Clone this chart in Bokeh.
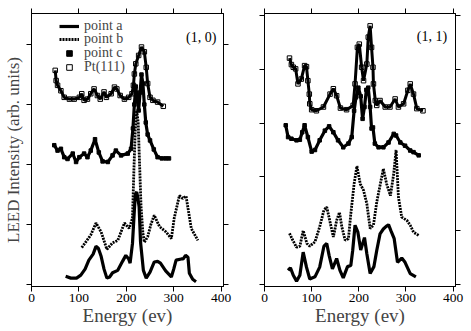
from bokeh.plotting import figure
from bokeh.layouts import row
from bokeh.models import (LinearAxis, FixedTicker, CustomJSTickFormatter, Range1d,
                          Legend, LegendItem, Label)
from bokeh.embed import file_html
from bokeh.resources import INLINE

FONT = "Liberation Serif"

# ---------------- data: panel (1, 0) ----------------
x_ticks = [0, 100, 200, 300, 400]
x_tick_labels = ["0", "100", "200", "300", "400"]

a10_E = [72, 83, 95, 104, 113, 121, 130, 136, 141, 147, 153, 159, 165, 171, 182, 192, 199, 205, 208, 213,
         216, 219, 222, 224, 227, 230, 236, 242, 250, 259, 266, 272, 283, 295, 300, 305, 316, 320, 325, 330,
         333, 340, 347]
a10_I = [0.13, 0.10, 0.10, 0.15, 0.25, 0.40, 0.50, 0.63, 0.60, 0.46, 0.25, 0.10, 0.12, 0.19, 0.23, 0.38, 0.48, 0.42, 0.35, 0.68,
         1.10, 1.50, 1.54, 1.45, 1.29, 0.70, 0.23, 0.10, 0.20, 0.37, 0.38, 0.35, 0.22, 0.12, 0.25, 0.40, 0.42, 0.42, 0.48, 0.45,
         0.18, 0.08, 0.04]

b10_E = [106, 116, 125, 136, 147, 159, 171, 182, 196, 206, 213, 216, 219, 222, 225, 228, 231, 235, 238, 245,
         252, 259, 270, 284, 295, 301, 312, 319, 326, 337, 351]
b10_I = [0.61, 0.72, 0.82, 1.02, 0.87, 0.58, 0.69, 0.73, 1.02, 0.93, 1.10, 1.90, 2.60, 2.90, 2.70, 2.00, 1.30, 0.85, 0.70, 0.79,
         1.00, 1.15, 0.96, 0.87, 0.76, 1.10, 1.48, 1.43, 1.47, 0.93, 0.73]

c10_E = [48, 55, 62, 69, 76, 87, 94, 101, 111, 118, 125, 134, 142, 150, 161, 171, 178, 189, 203, 210,
         214, 217, 220, 223, 226, 229, 232, 235, 238, 241, 245, 250, 258, 266, 275, 283, 290]
c10_I = [2.32, 2.23, 2.26, 2.12, 2.09, 2.18, 2.04, 2.12, 2.18, 2.12, 2.23, 2.42, 2.20, 2.05, 2.04, 2.15, 2.23, 2.15, 2.18, 2.26,
         2.60, 3.00, 3.30, 3.10, 2.90, 3.20, 3.50, 3.35, 3.00, 2.70, 2.50, 2.40, 2.25, 2.12, 2.10, 2.10, 2.10]

pt10_E = [50, 52, 55, 62, 69, 80, 90, 101, 106, 111, 118, 125, 132, 139, 145, 153, 158, 168, 175, 180,
          187, 196, 205, 212, 215, 217, 220, 226, 232, 238, 242, 245, 250, 256, 266, 278]
pt10_I = [3.57, 3.40, 3.32, 3.23, 3.12, 3.09, 3.09, 3.12, 3.18, 3.07, 3.09, 3.18, 3.26, 3.15, 3.09, 3.21, 3.12, 3.18, 3.29, 3.26,
          3.15, 3.09, 3.12, 3.18, 3.32, 3.51, 3.68, 3.82, 3.96, 3.88, 3.62, 3.35, 3.12, 3.07, 3.04, 2.97]

# ---------------- data: panel (1, 1) ----------------
a11_E = [50, 55, 61, 68, 75, 82, 89, 96, 107, 117, 126, 132, 137, 144, 153, 160, 167, 176, 183, 187,
         192, 198, 204, 212, 217, 224, 232, 238, 245, 252, 258, 263, 268, 275, 282, 291, 298, 309, 321]
a11_I = [0.26, 0.31, 0.17, 0.06, 0.17, 0.60, 0.32, 0.10, 0.14, 0.32, 0.71, 0.76, 0.54, 0.29, 0.48, 0.26, 0.12, 0.33, 0.35, 0.63,
         1.10, 0.97, 0.64, 0.87, 0.57, 0.20, 0.33, 0.63, 0.94, 1.03, 1.08, 1.11, 1.00, 0.85, 0.41, 0.49, 0.41, 0.20, 0.14]

b11_E = [53, 60, 68, 75, 82, 90, 96, 107, 117, 126, 132, 139, 146, 153, 159, 164, 171, 178, 183, 190,
         196, 203, 210, 217, 224, 231, 238, 247, 252, 259, 267, 274, 279, 284, 291, 302, 309, 316, 327]
b11_I = [0.95, 0.82, 0.69, 0.71, 1.00, 0.76, 0.71, 0.79, 1.07, 1.38, 1.44, 1.16, 0.88, 1.19, 1.34, 1.07, 0.82, 0.85, 1.31, 1.87,
         2.20, 1.87, 1.75, 1.50, 1.04, 1.10, 1.53, 1.93, 2.15, 1.87, 1.65, 2.06, 2.50, 1.62, 1.25, 1.19, 1.10, 0.97, 0.91]

c11_E = [45, 50, 57, 68, 75, 80, 85, 92, 100, 107, 117, 128, 137, 146, 156, 167, 178, 185, 190, 194,
         199, 204, 208, 212, 216, 220, 224, 227, 230, 234, 242, 252, 263, 274, 279, 288, 298, 309, 316, 327]
c11_I = [2.96, 2.74, 2.71, 2.68, 2.69, 2.83, 2.96, 2.74, 2.47, 2.50, 2.68, 2.86, 2.94, 2.83, 2.68, 2.55, 2.62, 2.74, 3.23, 3.48,
         3.66, 3.50, 3.08, 3.30, 3.62, 3.66, 3.30, 2.90, 2.92, 2.62, 2.55, 2.55, 2.64, 2.80, 2.77, 2.64, 2.58, 2.49, 2.46, 2.40]

pt11_E = [53, 57, 61, 66, 71, 78, 85, 89, 92, 95, 96, 100, 110, 125, 139, 146, 153, 161, 174, 188,
          192, 197, 201, 206, 210, 217, 220, 224, 227, 230, 231, 235, 238, 245, 256, 266, 277, 284, 295, 304,
          309, 316, 323, 336]
pt11_I = [4.21, 4.09, 4.04, 4.01, 3.73, 3.82, 4.07, 4.05, 3.79, 3.54, 3.36, 3.25, 3.23, 3.30, 3.54, 3.64, 3.51, 3.28, 3.25, 3.33,
          3.73, 4.41, 4.47, 4.04, 3.79, 4.10, 4.60, 4.81, 4.41, 4.04, 3.73, 3.42, 3.33, 3.42, 3.30, 3.30, 3.45, 3.30, 3.36, 3.61,
          3.73, 3.54, 3.27, 3.23]

legend_labels = ["point a", "point b", "point c", "Pt(111)"]

FRAME_TOP = 13
FRAME_H = 273
ROW_H = 14


def make_panel(y_max, y_ticks, ylabel, border_left, frame_w, border_right,
               a, b, c, pt, tag, tag_xy):
    p = figure(frame_width=frame_w, frame_height=FRAME_H,
               min_border_left=border_left, min_border_right=border_right,
               min_border_top=FRAME_TOP, min_border_bottom=45,
               x_range=Range1d(0, 405), y_range=Range1d(-0.04, y_max),
               x_axis_location=None, y_axis_location=None,
               output_backend="svg", toolbar_location=None)
    p.grid.visible = False
    p.outline_line_color = "black"
    p.outline_line_width = 1
    p.background_fill_color = "white"
    p.border_fill_color = "white"

    blank = CustomJSTickFormatter(code="return ''")

    def style(ax, labels):
        ax.axis_line_color = "black"
        ax.axis_line_width = 1
        ax.major_tick_line_color = "black"
        ax.major_tick_line_width = 1
        ax.major_tick_out = 5
        ax.major_tick_in = 0
        ax.minor_tick_line_color = None
        ax.major_label_text_font = FONT
        ax.major_label_text_color = "black"
        if labels:
            ax.major_label_text_font_size = "13.5px"
            ax.major_label_standoff = 2
        else:
            ax.formatter = blank
            ax.major_label_text_font_size = "0px"
            ax.major_label_standoff = 0

    xb = LinearAxis(ticker=FixedTicker(ticks=x_ticks))
    xb.major_label_overrides = {t: l for t, l in zip(x_ticks, x_tick_labels)}
    style(xb, True)
    xb.axis_label = "Energy (ev)"
    xb.axis_label_text_font = FONT
    xb.axis_label_text_font_size = "19px"
    xb.axis_label_text_font_style = "normal"
    xb.axis_label_standoff = 0
    p.add_layout(xb, "below")

    xt = LinearAxis(ticker=FixedTicker(ticks=x_ticks))
    style(xt, False)
    p.add_layout(xt, "above")

    yl = LinearAxis(ticker=FixedTicker(ticks=y_ticks))
    style(yl, False)
    if ylabel:
        yl.axis_label = ylabel
        yl.axis_label_text_font = FONT
        yl.axis_label_text_font_size = "17px"
        yl.axis_label_text_font_style = "normal"
        yl.axis_label_standoff = 4
    p.add_layout(yl, "left")

    yr = LinearAxis(ticker=FixedTicker(ticks=y_ticks))
    style(yr, False)
    p.add_layout(yr, "right")

    ra = p.line(a[0], a[1], line_color="black", line_width=3.2)
    rb = p.line(b[0], b[1], line_color="black", line_width=2.8, line_dash="2 1")
    p.line(c[0], c[1], line_color="black", line_width=3.2)
    rc = p.scatter(c[0], c[1], marker="square", size=3.5, fill_color="black", line_color="black")
    p.line(pt[0], pt[1], line_color="black", line_width=3)
    rp = p.scatter(pt[0], pt[1], marker="square", size=4.5, fill_color=None,
                   line_color="black", line_width=1)

    p.add_layout(Label(x=tag_xy[0], y=tag_xy[1], text=tag, text_font=FONT,
                       text_font_size="14px", text_color="black", text_baseline="middle"))
    return p, [ra, rb, rc, rp]


p1, rs = make_panel(4.52, [0, 1, 2, 3, 4], "LEED Intensity (arb. units)", 30, 192, 18,
                    (a10_E, a10_I), (b10_E, b10_I), (c10_E, c10_I), (pt10_E, pt10_I),
                    "(1, 0)", (326, 4.12))

# one single-item legend per row, so the rows can sit closer than Bokeh's text height
first_row_center = 25      # page px from top
row_step = 13.7
item_half_h = 8.5
for i, (lab, r) in enumerate(zip(legend_labels, rs)):
    center = first_row_center + i * row_step
    vy = (FRAME_TOP + FRAME_H) - center - item_half_h
    lg = Legend(items=[LegendItem(label=lab, renderers=[r])],
                location=(28, vy),
                label_text_font=FONT, label_text_font_size="14px",
                glyph_width=20, glyph_height=ROW_H, label_height=ROW_H, label_standoff=5,
                spacing=0, padding=0, margin=0,
                border_line_color=None, background_fill_alpha=0)
    p1.add_layout(lg, "center")

p2, _ = make_panel(5.04, [0, 1, 2, 3, 4, 5], None, 23, 191, 17,
                   (a11_E, a11_I), (b11_E, b11_I), (c11_E, c11_I), (pt11_E, pt11_I),
                   "(1, 1)", (323, 4.61))

layout = row(p1, p2, spacing=0)
open("out.html", "w").write(file_html(layout, INLINE))
